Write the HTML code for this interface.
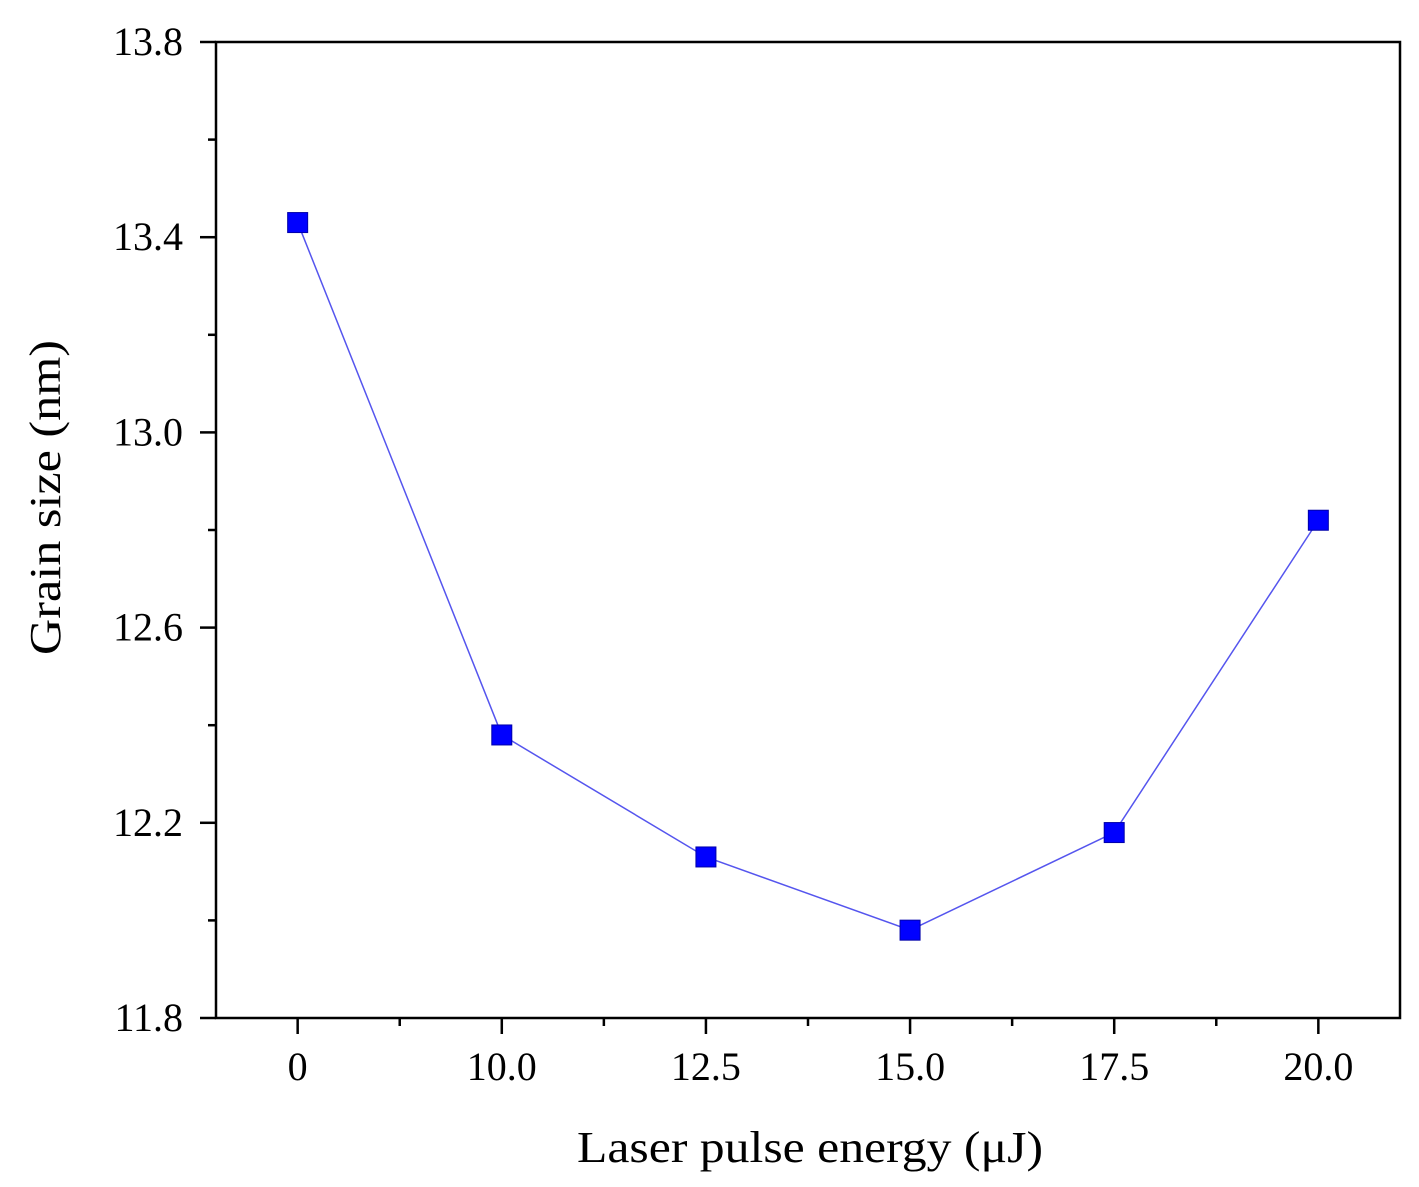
<!DOCTYPE html>
<html><head><meta charset="utf-8"><style>
html,body{margin:0;padding:0;background:#fff;}
svg{display:block;font-family:"Liberation Serif",serif;}
</style></head><body>
<svg id="chart" width="1419" height="1187" viewBox="0 0 1419 1187">
<rect x="216" y="42" width="1184" height="976" fill="none" stroke="#000" stroke-width="2.5"/>
<g id="axes"></g>
<g id="series"></g>
<text x="577" y="1162" font-size="44" textLength="466" lengthAdjust="spacingAndGlyphs">Laser pulse energy (μJ)</text>
<text transform="translate(60,655) rotate(-90)" font-size="44" textLength="315" lengthAdjust="spacingAndGlyphs">Grain size (nm)</text>
</svg>
<script>
const categories = ["0","10.0","12.5","15.0","17.5","20.0"];
const grainSize = [13.43, 12.38, 12.13, 11.98, 12.18, 12.82];
const yTicks = [11.8, 12.2, 12.6, 13.0, 13.4, 13.8];
const yTickLabels = ["11.8","12.2","12.6","13.0","13.4","13.8"];

const NS = "http://www.w3.org/2000/svg";
const x0 = 216, x1 = 1400, yTop = 42, yBot = 1018;
const yMin = 11.8, yMax = 13.8;
const step = (x1 - x0) / (categories.length - 1 + 0.8);
function xPos(i){ return x0 + step * (0.4 + i); }
function yPos(v){ return yBot - (v - yMin) / (yMax - yMin) * (yBot - yTop); }
function mk(tag, attrs, parent){
  const e = document.createElementNS(NS, tag);
  for (const k in attrs) e.setAttribute(k, attrs[k]);
  parent.appendChild(e); return e;
}
const axes = document.getElementById("axes");
const series = document.getElementById("series");

yTicks.forEach((v, i) => {
  const y = yPos(v);
  const t = mk("line", {x1: x0 - 16, x2: x0, y1: y, y2: y, stroke: "#000", "stroke-width": 2.5}, axes);
  
  
  const lb = mk("text", {x: x0 - 33, y: y + 13, "text-anchor": "end", "font-size": 40}, axes);
  lb.textContent = yTickLabels[i];
  
  
  if (i < yTicks.length - 1) {
    const ym = yPos(v + 0.2);
    const m = mk("line", {x1: x0 - 8, x2: x0, y1: ym, y2: ym, stroke: "#000", "stroke-width": 2.5}, axes);
    
    
  }
});

categories.forEach((c, i) => {
  const x = xPos(i);
  const t = mk("line", {x1: x, x2: x, y1: yBot, y2: yBot + 16, stroke: "#000", "stroke-width": 2.5}, axes);
  
  
  const lb = mk("text", {x: x, y: yBot + 62, "text-anchor": "middle", "font-size": 40}, axes);
  lb.textContent = c;
  
  
});
for (let i = -0.5; i <= categories.length - 0.5; i += 1) {
  const x = xPos(i);
  if (x <= x0 || x >= x1) continue;
  const m = mk("line", {x1: x, x2: x, y1: yBot, y2: yBot + 8, stroke: "#000", "stroke-width": 2.5}, axes);
  
  
}

const pts = grainSize.map((v, i) => xPos(i) + "," + yPos(v)).join(" ");
const line = mk("polyline", {points: pts, fill: "none", stroke: "#5555ee", "stroke-width": 1.5}, series);


grainSize.forEach((v, i) => {
  const r = mk("rect", {x: xPos(i) - 10, y: yPos(v) - 10, width: 20, height: 20, fill: "#0000ff", stroke: "#0000aa", "stroke-width": 1}, series);
  
  
});
</script>
</body></html>
